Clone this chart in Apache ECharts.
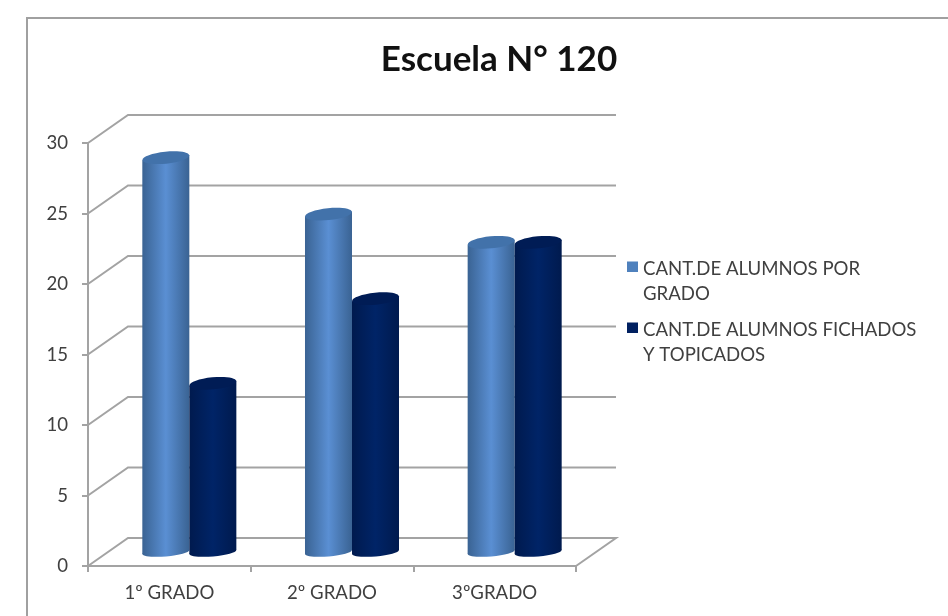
<!DOCTYPE html>
<html><head><meta charset="utf-8">
<style>html,body{margin:0;padding:0;background:#fff}#c{width:948px;height:616px;filter:blur(0.45px)}</style>
<script src="https://cdn.jsdelivr.net/npm/echarts@6/dist/echarts.min.js"></script>
</head><body><div id="c"></div>
<script>
const categories = ['1º GRADO', '2º GRADO', '3ºGRADO'];
const alumnosPorGrado = [28, 24, 22];
const alumnosFichados = [12, 18, 22];
const yTicks = [0, 5, 10, 15, 20, 25, 30];
const seriesNames = ['CANT.DE ALUMNOS POR\nGRADO', 'CANT.DE ALUMNOS FICHADOS\nY TOPICADOS'];
const FONT = 'Lato, "Open Sans", sans-serif';
const TEXT = '#404040';
const LINE = '#a3a3a3';
const DEPTH_X = 40, DEPTH_Y = -28;

function wall(params, api) {
  const cs = params.coordSys;
  const v = api.value(0);
  const y = api.coord([0, v])[1];
  const l = cs.x, r = cs.x + cs.width;
  const pts = v === 0
    ? [[l, y], [l + DEPTH_X, y + DEPTH_Y], [r + DEPTH_X, y + DEPTH_Y], [r, y]]
    : [[l, y], [l + DEPTH_X, y + DEPTH_Y], [r + DEPTH_X, y + DEPTH_Y]];
  return { type: 'polyline', shape: { points: pts },
    style: { stroke: LINE, lineWidth: 2, fill: 'none' } };
}

function cylinder(side, edge, mid, top) {
  return function (params, api) {
    const p = api.coord([api.value(0), api.value(1)]);
    const base = api.coord([api.value(0), 0]);
    const w = api.size([1, 0])[0] * 0.289;
    const x = p[0] + DEPTH_X / 2 + side * w / 2;
    const yTop = p[1] + DEPTH_Y / 2 + 0.5;
    const yBase = base[1] + DEPTH_Y / 2;
    const rx = w / 2, tilt = 2.5;
    const grad = { type: 'linear', x: 0, y: 0, x2: 1, y2: 0, colorStops: [
      { offset: 0, color: edge }, { offset: 0.5, color: mid }, { offset: 1, color: edge }] };
    return { type: 'group', children: [
      { type: 'ellipse', x: x, y: yBase, rotation: 0.08,
        shape: { cx: 0, cy: 0, rx: rx, ry: 4.5 }, style: { fill: grad } },
      { type: 'polygon', shape: { points: [
          [x - rx, yTop + tilt], [x + rx, yTop - tilt], [x + rx, yBase - 2], [x - rx, yBase + 2]] },
        style: { fill: grad } },
      { type: 'ellipse', x: x, y: yTop, rotation: 0.1,
        shape: { cx: 0, cy: 0, rx: rx, ry: 6 }, style: { fill: top } }
    ] };
  };
}

const chart = echarts.init(document.getElementById('c'), null, { renderer: 'canvas' });
chart.setOption({
  animation: false,
  backgroundColor: '#fff',
  title: { text: 'Escuela N° 120', left: 494, top: 37, textAlign: 'center',
    textStyle: { fontFamily: FONT, fontSize: 35, fontWeight: 'bold', color: '#111' } },
  graphic: [{ type: 'rect', silent: true, z: -1,
    shape: { x: 27, y: 18, width: 1000, height: 1000 },
    style: { fill: 'none', stroke: '#a0a0a0', lineWidth: 2 } }],
  grid: { left: 88, right: 372, top: 143, bottom: 50 },
  legend: { orient: 'vertical', left: 622, top: 252, itemWidth: 11, itemHeight: 40, itemGap: 12,
    selectedMode: false, align: 'left',
    textStyle: { fontFamily: FONT, fontSize: 18.6, color: TEXT, lineHeight: 24.5 },
    data: [
      { name: seriesNames[0], icon: 'path://M0 0H11V10.5H0Z M0 40H0V40Z', itemStyle: { color: '#4f81bd' } },
      { name: seriesNames[1], icon: 'path://M0 0H11V10.5H0Z M0 40H0V40Z', itemStyle: { color: '#002060' } }
    ] },
  xAxis: { type: 'category', data: categories,
    axisLine: { lineStyle: { color: LINE, width: 2 } },
    axisTick: { show: true, length: 6, lineStyle: { color: LINE, width: 2 } },
    axisLabel: { fontFamily: FONT, fontSize: 18.6, color: TEXT, margin: 17 },
    splitLine: { show: false } },
  yAxis: { type: 'value', min: 0, max: 30, interval: 5,
    axisLine: { show: true, lineStyle: { color: LINE, width: 2 } },
    axisTick: { show: true, length: 6, lineStyle: { color: LINE, width: 2 } },
    axisLabel: { fontFamily: FONT, fontSize: 18.6, color: TEXT, margin: 20 },
    splitLine: { show: false } },
  series: [
    { type: 'custom', name: 'walls', silent: true, z: 1, data: yTicks.map(v => [v]),
      renderItem: wall, encode: { y: 0 }, clip: false },
    { type: 'custom', name: seriesNames[0], z: 3, clip: false,
      data: categories.map((c, i) => [c, alumnosPorGrado[i]]), encode: { x: 0, y: 1 },
      renderItem: cylinder(-1, '#3a6393', '#5a8fd3', '#4272aa') },
    { type: 'custom', name: seriesNames[1], z: 4, clip: false,
      data: categories.map((c, i) => [c, alumnosFichados[i]]), encode: { x: 0, y: 1 },
      renderItem: cylinder(1, '#001a4e', '#002467', '#001c55') }
  ]
});
</script></body></html>
